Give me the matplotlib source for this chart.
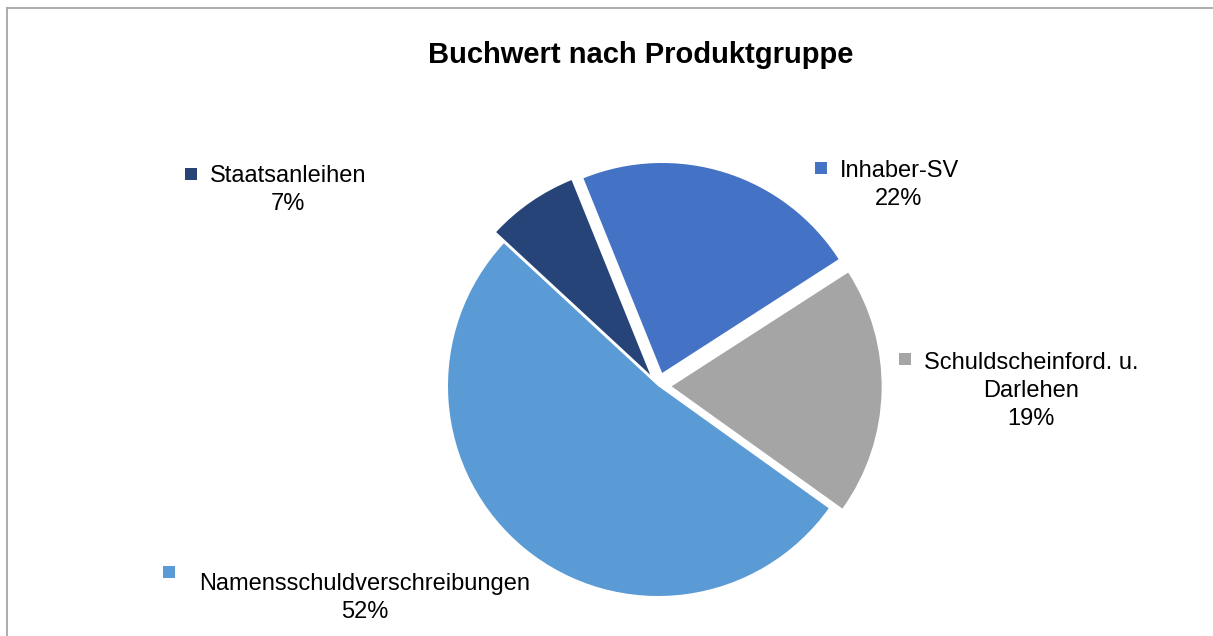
import matplotlib
matplotlib.use("Agg")
import matplotlib.pyplot as plt
from matplotlib.patches import Rectangle
from matplotlib.lines import Line2D

plt.rcParams['font.family'] = ['Liberation Sans', 'DejaVu Sans']

# Daten (Anteile am Buchwert in %)
categories = ["Inhaber-SV", "Schuldscheinford. u.\nDarlehen", "Namensschuldverschreibungen", "Staatsanleihen"]
shares = [22, 19, 52, 7]
colors = ["#4472C4", "#A5A5A5", "#5B9BD5", "#264478"]
explode = [0.065, 0.065, 0.0, 0.065]

W, H = 1213, 636
fig = plt.figure(figsize=(W / 100, H / 100), dpi=100)


def fx(x):
    return x / W


def fy(y):
    return 1 - y / H


# Rahmen
fig.add_artist(Line2D([fx(7), fx(7)], [fy(8), 0], color="#a6a6a6", lw=1.3))
fig.add_artist(Line2D([fx(7), 1], [fy(8), fy(8)], color="#a6a6a6", lw=1.3))

# Kreis
cx, cy, r = 658, 386, 210
ax = fig.add_axes([fx(cx - r), fy(cy + r), 2 * r / W, 2 * r / H])
ax.pie(shares, colors=colors, explode=explode, startangle=112, counterclock=False,
       radius=1, wedgeprops=dict(linewidth=0))
ax.set_xlim(-1, 1)
ax.set_ylim(-1, 1)
ax.set_aspect("equal")
ax.axis("off")

fig.text(fx(641), fy(63), "Buchwert nach Produktgruppe", ha="center", va="baseline",
         fontsize=21, fontweight="bold")

# Beschriftungen: (Schlüssel x, y), Textmitte x, erste Grundlinie y
label_pos = [
    ((815, 162), 899, 177),
    ((899, 353), 1031, 369),
    ((163, 566), 365, 590),
    ((185, 168), 288, 182),
]
line_h = 28
for cat, val, col, ((kx, ky), tx, ty) in zip(categories, shares, colors, label_pos):
    fig.add_artist(Rectangle((fx(kx), fy(ky + 12)), 12 / W, 12 / H, transform=fig.transFigure,
                             facecolor=col, edgecolor="none"))
    lines = cat.split("\n") + [f"{val}%"]
    for i, ln in enumerate(lines):
        fig.text(fx(tx), fy(ty + i * line_h), ln, ha="center", va="baseline", fontsize=17)

fig.savefig("out.png", dpi=100)
